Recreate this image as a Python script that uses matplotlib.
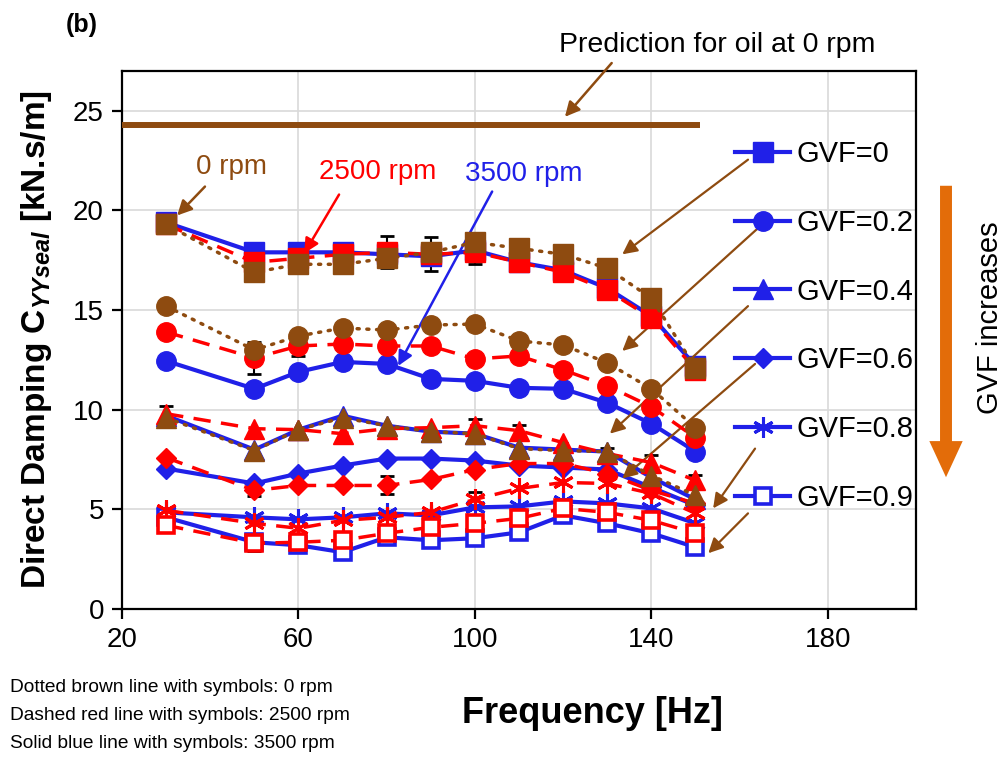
import matplotlib
matplotlib.use("Agg")
import matplotlib.pyplot as plt
import numpy as np

plt.rcParams['font.family'] = ['Liberation Sans', 'DejaVu Sans']
plt.rcParams['mathtext.fontset'] = 'custom'
plt.rcParams['mathtext.rm'] = 'Liberation Sans:bold'
plt.rcParams['mathtext.it'] = 'Liberation Sans:bold:italic'

freq = [30, 50, 60, 70, 80, 90, 100, 110, 120, 130, 140, 150]
gvf_labels = ['GVF=0', 'GVF=0.2', 'GVF=0.4', 'GVF=0.6', 'GVF=0.8', 'GVF=0.9']

# 0 rpm (brown, dotted) - only GVF 0, 0.2, 0.4
rpm0_gvf0 = [19.3, 16.9, 17.3, 17.3, 17.6, 17.9, 18.4, 18.1, 17.8, 17.1, 15.6, 12.1]
rpm0_gvf02 = [15.2, 13.0, 13.7, 14.1, 14.0, 14.25, 14.3, 13.45, 13.25, 12.35, 11.05, 9.1]
rpm0_gvf04 = [9.6, 7.95, 9.0, 9.6, 9.2, 8.9, 8.8, 8.05, 7.95, 7.9, 6.7, 5.7]

# 2500 rpm (red, dashed)
rpm2500_gvf0 = [19.3, 17.4, 17.6, 17.8, 17.9, 17.8, 17.9, 17.4, 16.9, 16.0, 14.6, 12.0]
rpm2500_gvf02 = [13.9, 12.6, 13.2, 13.3, 13.2, 13.2, 12.55, 12.7, 12.0, 11.2, 10.15, 8.6]
rpm2500_gvf04 = [9.8, 9.05, 9.0, 8.8, 9.05, 9.1, 9.2, 8.95, 8.35, 7.8, 7.35, 6.45]
rpm2500_gvf06 = [7.6, 5.95, 6.2, 6.2, 6.2, 6.5, 7.0, 7.3, 7.3, 6.8, 5.95, 5.3]
rpm2500_gvf08 = [4.95, 4.3, 4.05, 4.45, 4.6, 4.85, 5.5, 6.05, 6.35, 6.3, 5.8, 4.8]
rpm2500_gvf09 = [4.2, 3.3, 3.35, 3.45, 3.8, 4.1, 4.3, 4.55, 5.05, 4.85, 4.45, 3.8]

# uncertainty on the 2500 rpm points (0 = no bar)
err_gvf0 = [0.3, 0, 0, 0, 0.8, 0.85, 0.6, 0.3, 0, 0.4, 0, 0]
err_gvf02 = [0, 0.8, 0.5, 0, 0, 0.3, 0, 0, 0, 0.3, 0, 0]
err_gvf04 = [0.4, 0, 0, 0.4, 0, 0, 0.35, 0.3, 0, 0.3, 0.4, 0.3]
err_gvf06 = [0, 0.3, 0, 0, 0.45, 0, 0, 0, 0, 0, 0.3, 0]
err_gvf08 = [0, 0, 0, 0, 0, 0, 0.35, 0, 0, 0, 0, 0]
err_gvf09 = [0.3, 0.4, 0.35, 0.3, 0, 0.3, 0, 0, 0.3, 0.3, 0.3, 0]

# 3500 rpm (blue, solid)
rpm3500_gvf0 = [19.4, 17.9, 17.9, 17.9, 17.8, 17.7, 18.0, 17.4, 17.0, 16.1, 14.7, 12.2]
rpm3500_gvf02 = [12.45, 11.05, 11.9, 12.4, 12.3, 11.55, 11.45, 11.1, 11.05, 10.35, 9.3, 7.9]
rpm3500_gvf04 = [9.7, 8.0, 9.0, 9.7, 9.2, 8.9, 8.8, 8.1, 8.0, 7.9, 6.6, 5.5]
rpm3500_gvf06 = [7.05, 6.3, 6.8, 7.2, 7.55, 7.55, 7.45, 7.2, 7.1, 7.0, 6.1, 5.2]
rpm3500_gvf08 = [4.85, 4.6, 4.5, 4.6, 4.8, 4.7, 5.1, 5.15, 5.4, 5.3, 5.05, 4.3]
rpm3500_gvf09 = [4.6, 3.35, 3.2, 2.85, 3.6, 3.45, 3.55, 3.85, 4.7, 4.3, 3.8, 3.1]

pred_freq = [20, 151]
pred_val = [24.3, 24.3]

BLUE = '#2020E8'
RED = '#FF0000'
BROWN = '#8E4B10'
ORANGE = '#E36C09'

markers = [
    dict(marker='s', ms=14),
    dict(marker='o', ms=14),
    dict(marker='^', ms=14),
    dict(marker='D', ms=10.5),
    dict(marker=(6, 2, 0), ms=15, mew=2.2),
    dict(marker='s', ms=12, mew=2.6, mfc='white'),
]

fig = plt.figure(figsize=(10.06, 7.57), dpi=100)
ax = fig.add_axes([0.1213, 0.1955, 0.7893, 0.7107])

blue_sets = [rpm3500_gvf0, rpm3500_gvf02, rpm3500_gvf04, rpm3500_gvf06, rpm3500_gvf08, rpm3500_gvf09]
red_sets = [rpm2500_gvf0, rpm2500_gvf02, rpm2500_gvf04, rpm2500_gvf06, rpm2500_gvf08, rpm2500_gvf09]
red_errs = [err_gvf0, err_gvf02, err_gvf04, err_gvf06, err_gvf08, err_gvf09]
brown_sets = [rpm0_gvf0, rpm0_gvf02, rpm0_gvf04]

x = np.array(freq)
handles = []
for vals, mk, lab in zip(blue_sets, markers, gvf_labels):
    h, = ax.plot(freq, vals, color=BLUE, lw=3, mec=BLUE, mfc=mk.get('mfc', BLUE),
                 marker=mk['marker'], ms=mk['ms'], mew=mk.get('mew', 1), zorder=3, label=lab)
    handles.append(h)

for vals, err, mk in zip(red_sets, red_errs, markers):
    ax.plot(freq, vals, color=RED, lw=2.5, dashes=(5, 3), mec=RED, mfc=mk.get('mfc', RED),
            marker=mk['marker'], ms=mk['ms'], mew=mk.get('mew', 1), zorder=4)
    e = np.array(err)
    m = e > 0
    ax.errorbar(x[m], np.array(vals)[m], yerr=e[m], fmt='none', ecolor='black',
                elinewidth=1.5, capsize=5, capthick=2, zorder=2.5)

for vals, mk in zip(brown_sets, markers):
    ax.plot(freq, vals, color=BROWN, lw=2.5, linestyle=(0, (0.6, 2.2)), dash_capstyle='round',
            mec=BROWN, mfc=BROWN, marker=mk['marker'], ms=mk['ms'], zorder=5)

ax.plot(pred_freq, pred_val, color=BROWN, lw=4.3, solid_capstyle='butt', zorder=3)

ax.set_xlim(20, 200)
ax.set_ylim(0, 27)
ax.set_xticks([20, 60, 100, 140, 180])
ax.set_yticks([0, 5, 10, 15, 20, 25])
ax.grid(True, color='#D9D9D9', lw=1.2)
ax.set_axisbelow(True)
for s in ax.spines.values():
    s.set_linewidth(1.6)
    s.set_color('black')
ax.tick_params(direction='out', length=7, width=1.6, labelsize=20, pad=6)

ax.set_ylabel('Direct Damping C$_{YYseal}$ [kN.s/m]', fontsize=24, fontweight='bold')
ax.yaxis.set_label_coords(-0.086, 0.5)
ax.set_xlabel('Frequency [Hz]', fontsize=26, fontweight='bold')
ax.xaxis.set_label_coords(0.593, -0.162)

ax.legend(handles=handles, loc='center left', bbox_to_anchor=(0.772, 0.526), frameon=False,
          fontsize=21, handlelength=1.9, handletextpad=0.2, labelspacing=1.4,
          borderpad=0, borderaxespad=0)

arrow_kw = dict(arrowstyle='-|>', mutation_scale=22, lw=1.8, color=BROWN, shrinkA=0, shrinkB=0)

# labels for rpm groups
ax.text(44.9, 22.2, '0 rpm', color=BROWN, fontsize=20, ha='center', va='center')
ax.annotate('', xy=(32.5, 19.75), xytext=(38.8, 21.2), arrowprops=arrow_kw)
ax.text(78.0, 21.95, '2500 rpm', color=RED, fontsize=20, ha='center', va='center')
ax.annotate('', xy=(61.3, 17.85), xytext=(69.2, 20.8), arrowprops=dict(arrow_kw, color=RED))
ax.text(111.1, 21.85, '3500 rpm', color=BLUE, fontsize=20, ha='center', va='center')
ax.annotate('', xy=(82.6, 12.2), xytext=(103.9, 20.95), arrowprops=dict(arrow_kw, color=BLUE))

# prediction label
fig.text(717 / 1006, 1 - 45 / 757, 'Prediction for oil at 0 rpm', fontsize=20.5, ha='center', va='center')
ax.annotate('', xy=(120.4, 24.7), xytext=(131.0, 27.4), arrowprops=dict(arrow_kw), annotation_clip=False)

# legend-to-curve arrows
leg_starts = [(161.9, 22.55), (165.1, 19.3), (161.9, 15.2), (163.5, 12.3), (163.5, 8.05), (161.9, 4.8)]
leg_ends = [(133.4, 17.8), (133.4, 12.95), (130.6, 8.8), (133.4, 6.55), (154.0, 5.05), (152.9, 2.8)]
for s, e in zip(leg_starts, leg_ends):
    ax.annotate('', xy=e, xytext=s, arrowprops=dict(arrow_kw, lw=1.6))

# GVF increases arrow
fig.patches.append(matplotlib.patches.FancyArrowPatch(
    (946, 757 - 183), (946, 757 - 480), transform=None,
    arrowstyle='simple,head_length=2.6,head_width=2.4,tail_width=0.86',
    mutation_scale=10, color=ORANGE, lw=0))
fig.text(990 / 1006, 1 - 318 / 757, 'GVF increases', fontsize=21, rotation=90, ha='center', va='center')

fig.text(82 / 1006, 1 - 25 / 757, '(b)', fontsize=18, fontweight='bold', ha='center', va='center')

notes = ['Dotted brown line with symbols: 0 rpm',
         'Dashed red line with symbols: 2500 rpm',
         'Solid blue line with symbols: 3500 rpm']
for i, t in enumerate(notes):
    fig.text(10 / 1006, 1 - (688 + 28 * i) / 757, t, fontsize=13.8, ha='left', va='center')

fig.savefig('out.png', dpi=100)
